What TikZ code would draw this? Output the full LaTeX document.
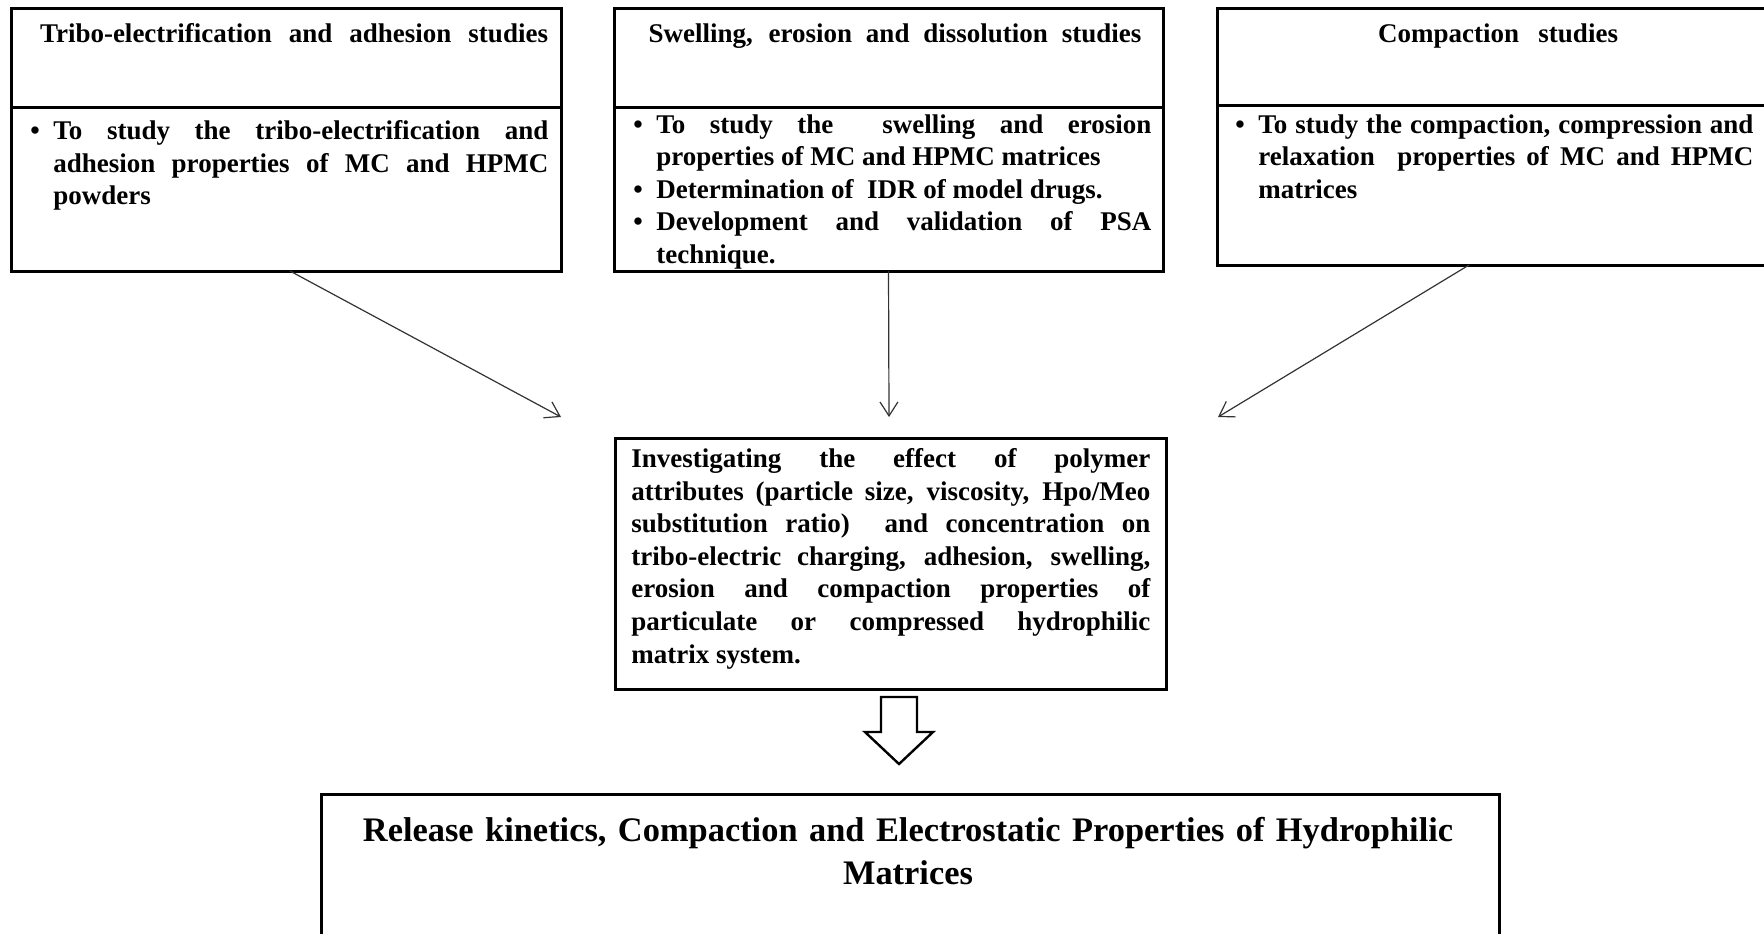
\documentclass[tikz,border=0pt]{standalone}
\usepackage{fontspec}
\setmainfont{Liberation Serif}
\usetikzlibrary{arrows.meta}
\hyphenpenalty=10000
\exhyphenpenalty=10000
\newcommand{\bitem}{\noindent\hangindent=11.5pt\hangafter=1\makebox[11.5pt][l]{\textbullet}}
\begin{document}
\begin{tikzpicture}[x=0.5pt,y=-0.5pt,
  box/.style={draw=black, line width=1.5pt, anchor=north west, inner sep=0pt, outer sep=0pt},
  divline/.style={draw=black, line width=1.5pt},
  body/.style={anchor=north west, inner sep=0pt, text width=259pt, align=justify,
    font=\bfseries\fontsize{13.5pt}{16.3pt}\selectfont},
  head/.style={anchor=base, inner sep=0pt, font=\bfseries\fontsize{13.5pt}{16.3pt}\selectfont},
  conn/.style={draw=black!80, line width=0.6pt, -{Straight Barb[length=7pt,width=9pt]}},
  hollow/.style={draw=black, line width=1.2pt, fill=white, line join=miter},
]
\useasboundingbox[fill=white] (0,0) rectangle (1764,933);

% top boxes
\node[box, minimum width=275pt, minimum height=131.5pt] (b1) at (11,8) {};
\node[box, minimum width=274.5pt, minimum height=131.5pt] (b2) at (614,8) {};
\node[box, minimum width=281pt, minimum height=128.5pt] (b3) at (1217,8) {};
\draw[divline] (11,107) -- (561,107);
\draw[divline] (614,107) -- (1163,107);
\draw[divline] (1217,105) -- (1779,105);

% headers
\node[head] (h1) at (294,42) {\makebox[254pt][s]{Tribo-electrification and adhesion studies}};
\node[head] (h2) at (895,42) {\makebox[246.5pt][s]{Swelling, erosion and dissolution studies}};
\node[head] (h3) at (1498,42) {\makebox[120pt][s]{Compaction studies}};

% bodies
\node[body] (t1) at (30,120) {\bitem To study the tribo-electrification and\linebreak adhesion properties of MC and HPMC\linebreak powders\par};
\node[body] (t2) at (633,114) {\bitem To study the\ \ swelling and erosion\linebreak properties of MC and HPMC matrices\par
\bitem Determination of\ \ IDR of model drugs.\par
\bitem Development and validation of PSA\linebreak technique.\par};
\node[body] (t3) at (1235,114) {\bitem To study the compaction, compression and\linebreak relaxation\ \ properties of MC and HPMC\linebreak matrices\par};

% centre box
\node[box, minimum width=275.5pt, minimum height=125.5pt] (c) at (615,438) {};
\node[body, text width=259.5pt] (ct) at (631,448) {Investigating the effect of polymer\linebreak
attributes (particle size, viscosity, Hpo/Meo\linebreak
substitution ratio)\ \ and concentration on\linebreak
tribo-electric charging, adhesion, swelling,\linebreak
erosion and compaction properties of\linebreak
particulate or compressed hydrophilic\linebreak
matrix system.};

% arrows to centre
\coordinate (e1) at (561,417);
\coordinate (e2) at (889,417);
\coordinate (e3) at (1218,417);
\draw[conn] ([xshift=2pt]b1.south) -- (e1);
\draw[conn] (b2.south) -- (e2);
\draw[conn] ([xshift=-14.5pt]b3.south) -- (e3);

% hollow arrow
\draw[hollow] (881,697) -- (917,697) -- (917,732) -- (933,732) -- (899,764) -- (865,732) -- (881,732) -- cycle;

% bottom box
\node[box, minimum width=589pt, minimum height=100pt] (bb) at (321,794) {};
\node[anchor=north, inner sep=0pt, text width=580pt, align=center,
  font=\bfseries\fontsize{17.2pt}{21.5pt}\selectfont] (bt) at (908,817)
  {Release kinetics, Compaction and Electrostatic Properties of Hydrophilic\\ Matrices};
\end{tikzpicture}
\end{document}
